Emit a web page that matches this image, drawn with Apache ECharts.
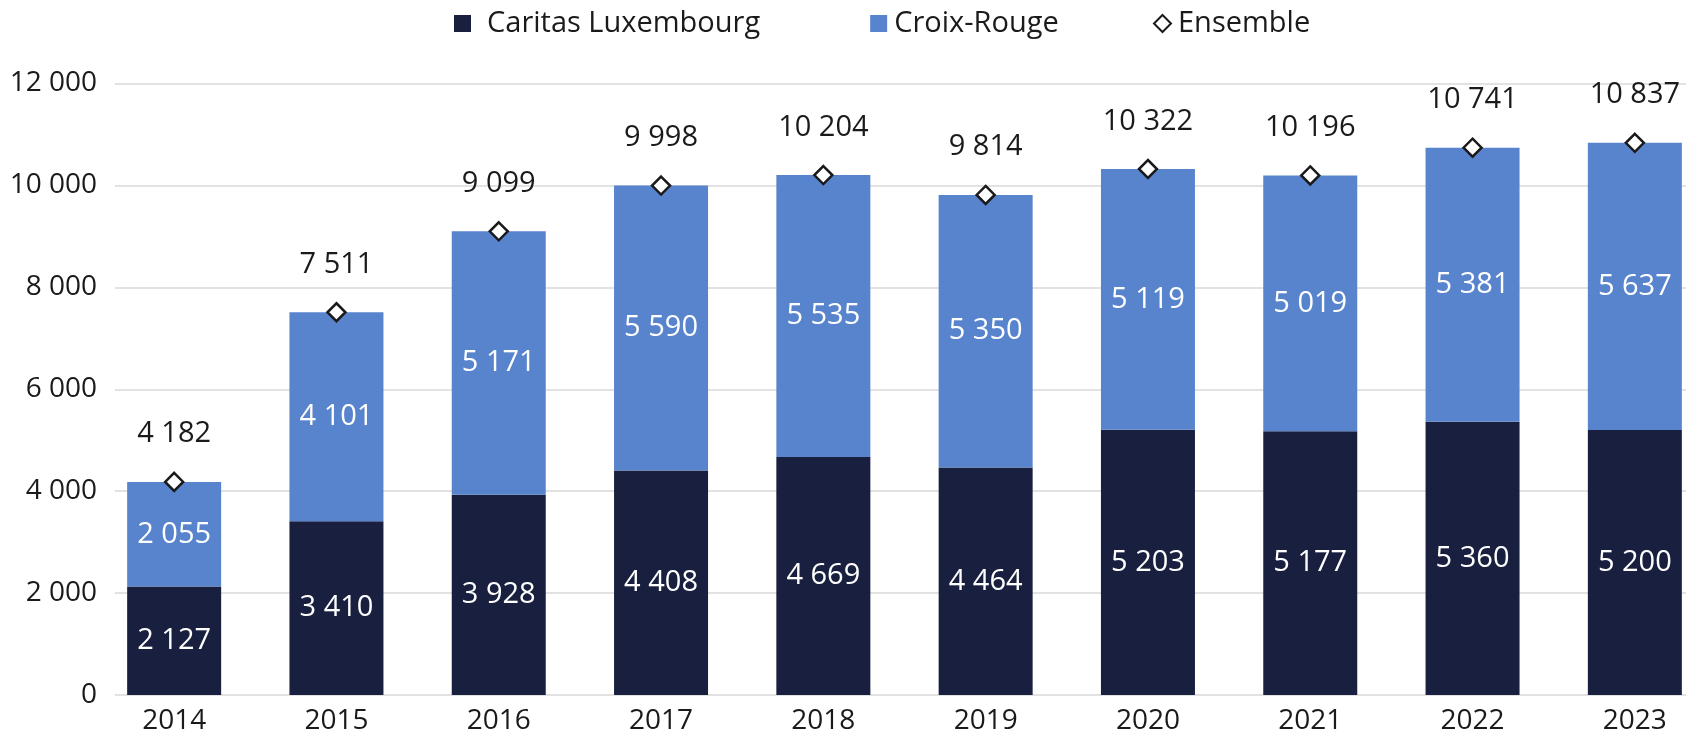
<!DOCTYPE html>
<html>
<head>
<meta charset="utf-8">
<script src="https://cdn.jsdelivr.net/npm/echarts@6/dist/echarts.min.js"></script>
<style>
html, body { margin: 0; padding: 0; background: #fff; }
#chart { width: 1686px; height: 736px; }
</style>
</head>
<body>
<div id="chart"></div>
<script>
var years = ['2014', '2015', '2016', '2017', '2018', '2019', '2020', '2021', '2022', '2023'];
var caritas = [2127, 3410, 3928, 4408, 4669, 4464, 5203, 5177, 5360, 5200];
var croixRouge = [2055, 4101, 5171, 5590, 5535, 5350, 5119, 5019, 5381, 5637];
var ensemble = [4182, 7511, 9099, 9998, 10204, 9814, 10322, 10196, 10741, 10837];

var FONT = '"Open Sans", "Noto Sans", sans-serif';
var TXT = '#1a1a1a';

function fmt(v) {
    return String(v).replace(/\B(?=(\d{3})+(?!\d))/g, ' ');
}

var myChart = echarts.init(document.getElementById('chart'));
var option = {
    animation: false,
    textStyle: { fontFamily: FONT },
    legend: [
        {
            left: 454,
            top: 9,
            padding: 0,
            itemGap: 110,
            itemWidth: 17,
            itemHeight: 17,
            textStyle: { fontSize: 29, color: TXT, fontFamily: FONT },
            data: [
                { name: 'Caritas Luxembourg', icon: 'rect', textStyle: { padding: [0, 0, 0, 11] } },
                { name: 'Croix-Rouge', icon: 'rect', textStyle: { padding: [0, 0, 0, 2] } }
            ]
        },
        {
            left: 1153,
            top: 9,
            padding: 0,
            itemWidth: 17,
            itemHeight: 17,
            textStyle: { fontSize: 29, color: TXT, fontFamily: FONT, padding: [0, 0, 0, 2] },
            data: [
                { name: 'Ensemble', icon: 'diamond', itemStyle: { color: '#fff', borderColor: '#1a1a1a', borderWidth: 2, opacity: 1 } }
            ]
        }
    ],
    grid: [
        { left: 93, width: 1623, top: 83.5, bottom: 41, outerBoundsMode: 'none' },  // barres
        { left: 115, right: 0, top: 83.5, bottom: 41, outerBoundsMode: 'none' }     // quadrillage
    ],
    xAxis: [
        {
            type: 'category',
            gridIndex: 0,
            data: years,
            axisLine: { show: false },
            axisTick: { show: false },
            axisLabel: { fontSize: 28, color: TXT, margin: 12, fontFamily: FONT }
        },
        { type: 'value', gridIndex: 1, show: false }
    ],
    yAxis: [
        { type: 'value', gridIndex: 0, min: 0, max: 12000, interval: 2000, show: false },
        {
            type: 'value',
            gridIndex: 1,
            min: 0,
            max: 12000,
            interval: 2000,
            axisLine: { show: false },
            axisTick: { show: false },
            splitLine: { lineStyle: { color: '#d9d9d9', width: 1.5 } },
            axisLabel: { fontSize: 28, color: TXT, margin: 18, fontFamily: FONT, formatter: fmt }
        }
    ],
    series: [
        {
            name: 'Caritas Luxembourg',
            type: 'bar',
            stack: 'total',
            barWidth: 94,
            data: caritas,
            itemStyle: { color: '#19203f' },
            label: { show: true, position: 'inside', color: '#fff', fontSize: 29, fontFamily: FONT, formatter: function (p) { return fmt(p.value); } }
        },
        {
            name: 'Croix-Rouge',
            type: 'bar',
            stack: 'total',
            barWidth: 94,
            data: croixRouge,
            itemStyle: { color: '#5884cd' },
            label: { show: true, position: 'inside', color: '#fff', fontSize: 29, fontFamily: FONT, formatter: function (p) { return fmt(p.value); } }
        },
        {
            name: 'Ensemble',
            type: 'scatter',
            data: ensemble,
            symbol: 'diamond',
            symbolSize: 18,
            z: 5,
            itemStyle: { color: '#fff', borderColor: '#1a1a1a', borderWidth: 2.5, opacity: 1 },
            label: { show: true, position: 'top', distance: 23, color: TXT, fontSize: 29, fontFamily: FONT, formatter: function (p) { return fmt(p.value); } }
        }
    ]
};

if (option && typeof option === 'object') {
    myChart.setOption(option, true);
}
</script>
</body>
</html>
